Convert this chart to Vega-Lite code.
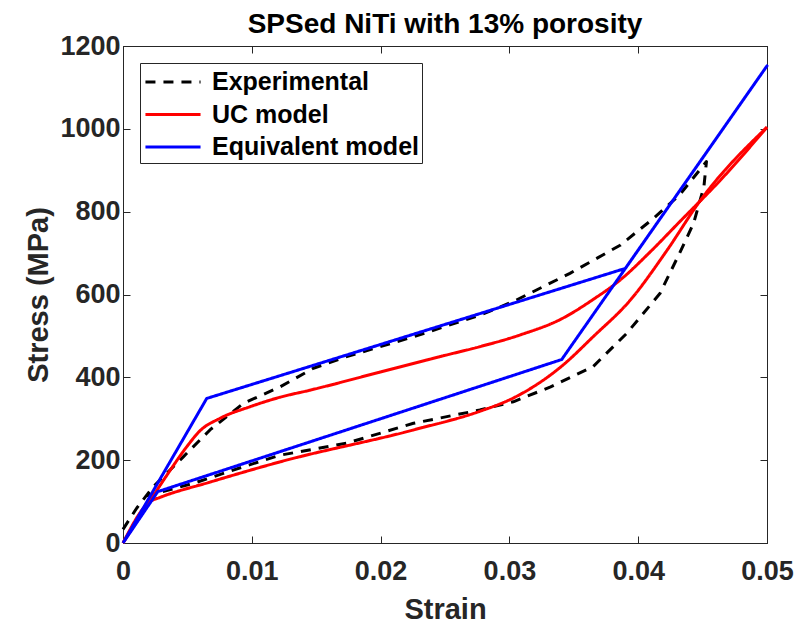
{
  "$schema": "https://vega.github.io/schema/vega-lite/v6.json",
  "width": 644,
  "height": 497,
  "autosize": {"type": "none"},
  "padding": {"left": 123, "top": 46, "right": 28, "bottom": 81},
  "background": "white",
  "title": {"text": "SPSed NiTi with 13% porosity", "font": "Liberation Sans", "fontSize": 28, "fontWeight": "bold", "color": "#000000", "offset": -7, "anchor": "middle"},
  "config": {
    "view": {"stroke": "#262626", "strokeWidth": 1},
    "axis": {"grid": false, "domainColor": "#262626", "tickColor": "#262626", "labelColor": "#262626", "titleColor": "#262626", "labelFont": "Liberation Sans", "titleFont": "Liberation Sans", "labelFontWeight": "bold", "titleFontWeight": "bold", "labelFontSize": 27, "titleFontSize": 29, "tickSize": -7, "labelFlush": false},
    "legend": {"strokeColor": "#262626", "fillColor": "white", "padding": 3, "rowPadding": 3.5, "labelFont": "Liberation Sans", "labelFontWeight": "bold", "labelFontSize": 25, "labelColor": "#000000", "labelLimit": 400}
  },
  "data": {"values": [
    {"series": "Experimental", "branch": "a", "i": 1, "strain": 0, "stress": 33},
    {"series": "Experimental", "branch": "a", "i": 2, "strain": 0.00106, "stress": 84},
    {"series": "Experimental", "branch": "a", "i": 3, "strain": 0.00235, "stress": 136},
    {"series": "Experimental", "branch": "a", "i": 4, "strain": 0.00468, "stress": 208},
    {"series": "Experimental", "branch": "a", "i": 5, "strain": 0.00675, "stress": 273},
    {"series": "Experimental", "branch": "a", "i": 6, "strain": 0.00934, "stress": 337},
    {"series": "Experimental", "branch": "a", "i": 7, "strain": 0.0122, "stress": 377},
    {"series": "Experimental", "branch": "a", "i": 8, "strain": 0.01478, "stress": 422},
    {"series": "Experimental", "branch": "a", "i": 9, "strain": 0.01737, "stress": 450},
    {"series": "Experimental", "branch": "a", "i": 10, "strain": 0.02255, "stress": 498},
    {"series": "Experimental", "branch": "a", "i": 11, "strain": 0.0277, "stress": 550},
    {"series": "Experimental", "branch": "a", "i": 12, "strain": 0.0303, "stress": 583},
    {"series": "Experimental", "branch": "a", "i": 13, "strain": 0.0347, "stress": 651},
    {"series": "Experimental", "branch": "a", "i": 14, "strain": 0.0386, "stress": 719},
    {"series": "Experimental", "branch": "a", "i": 15, "strain": 0.0412, "stress": 784},
    {"series": "Experimental", "branch": "a", "i": 16, "strain": 0.0432, "stress": 840},
    {"series": "Experimental", "branch": "a", "i": 17, "strain": 0.0453, "stress": 921},
    {"series": "Experimental", "branch": "a", "i": 18, "strain": 0.0451, "stress": 860},
    {"series": "Experimental", "branch": "a", "i": 19, "strain": 0.0443, "stress": 772},
    {"series": "Experimental", "branch": "a", "i": 20, "strain": 0.0432, "stress": 699},
    {"series": "Experimental", "branch": "a", "i": 21, "strain": 0.0417, "stress": 603},
    {"series": "Experimental", "branch": "a", "i": 22, "strain": 0.0391, "stress": 506},
    {"series": "Experimental", "branch": "a", "i": 23, "strain": 0.0365, "stress": 426},
    {"series": "Experimental", "branch": "a", "i": 24, "strain": 0.0332, "stress": 377},
    {"series": "Experimental", "branch": "a", "i": 25, "strain": 0.0303, "stress": 341},
    {"series": "Experimental", "branch": "a", "i": 26, "strain": 0.0277, "stress": 321},
    {"series": "Experimental", "branch": "a", "i": 27, "strain": 0.02255, "stress": 289},
    {"series": "Experimental", "branch": "a", "i": 28, "strain": 0.01737, "stress": 241},
    {"series": "Experimental", "branch": "a", "i": 29, "strain": 0.0122, "stress": 212},
    {"series": "Experimental", "branch": "a", "i": 30, "strain": 0.00934, "stress": 184},
    {"series": "Experimental", "branch": "a", "i": 31, "strain": 0.00546, "stress": 144},
    {"series": "Experimental", "branch": "a", "i": 32, "strain": 0.00261, "stress": 120},
    {"series": "Experimental", "branch": "a", "i": 33, "strain": 0.0016, "stress": 112},
    {"series": "UC model", "branch": "load", "i": 1, "strain": 0, "stress": 0},
    {"series": "UC model", "branch": "load", "i": 2, "strain": 0.0021, "stress": 102},
    {"series": "UC model", "branch": "load", "i": 3, "strain": 0.0035, "stress": 168},
    {"series": "UC model", "branch": "load", "i": 4, "strain": 0.00494, "stress": 232},
    {"series": "UC model", "branch": "load", "i": 5, "strain": 0.00598, "stress": 271},
    {"series": "UC model", "branch": "load", "i": 6, "strain": 0.00753, "stress": 301},
    {"series": "UC model", "branch": "load", "i": 7, "strain": 0.00986, "stress": 329},
    {"series": "UC model", "branch": "load", "i": 8, "strain": 0.0122, "stress": 352},
    {"series": "UC model", "branch": "load", "i": 9, "strain": 0.01452, "stress": 369},
    {"series": "UC model", "branch": "load", "i": 10, "strain": 0.02, "stress": 413},
    {"series": "UC model", "branch": "load", "i": 11, "strain": 0.025, "stress": 453},
    {"series": "UC model", "branch": "load", "i": 12, "strain": 0.0277, "stress": 474},
    {"series": "UC model", "branch": "load", "i": 13, "strain": 0.0308, "stress": 502},
    {"series": "UC model", "branch": "load", "i": 14, "strain": 0.0341, "stress": 542},
    {"series": "UC model", "branch": "load", "i": 15, "strain": 0.0365, "stress": 588},
    {"series": "UC model", "branch": "load", "i": 16, "strain": 0.0386, "stress": 635},
    {"series": "UC model", "branch": "load", "i": 17, "strain": 0.041, "stress": 705},
    {"series": "UC model", "branch": "load", "i": 18, "strain": 0.0432, "stress": 775},
    {"series": "UC model", "branch": "load", "i": 19, "strain": 0.0465, "stress": 880},
    {"series": "UC model", "branch": "load", "i": 20, "strain": 0.05, "stress": 1004},
    {"series": "UC model", "branch": "unload", "i": 21, "strain": 0.05, "stress": 1004},
    {"series": "UC model", "branch": "unload", "i": 22, "strain": 0.0448, "stress": 826},
    {"series": "UC model", "branch": "unload", "i": 23, "strain": 0.0422, "stress": 705},
    {"series": "UC model", "branch": "unload", "i": 24, "strain": 0.0394, "stress": 587},
    {"series": "UC model", "branch": "unload", "i": 25, "strain": 0.0365, "stress": 498},
    {"series": "UC model", "branch": "unload", "i": 26, "strain": 0.0341, "stress": 428},
    {"series": "UC model", "branch": "unload", "i": 27, "strain": 0.0303, "stress": 350},
    {"series": "UC model", "branch": "unload", "i": 28, "strain": 0.0277, "stress": 318},
    {"series": "UC model", "branch": "unload", "i": 29, "strain": 0.02255, "stress": 273},
    {"series": "UC model", "branch": "unload", "i": 30, "strain": 0.0122, "stress": 196},
    {"series": "UC model", "branch": "unload", "i": 31, "strain": 0.00675, "stress": 147},
    {"series": "UC model", "branch": "unload", "i": 32, "strain": 0.00287, "stress": 110},
    {"series": "UC model", "branch": "unload", "i": 33, "strain": 0.0021, "stress": 100},
    {"series": "UC model", "branch": "unload", "i": 34, "strain": 0, "stress": 0},
    {"series": "Equivalent model", "branch": "a", "i": 1, "strain": 0, "stress": 0},
    {"series": "Equivalent model", "branch": "a", "i": 2, "strain": 0.0065, "stress": 349},
    {"series": "Equivalent model", "branch": "a", "i": 3, "strain": 0.039, "stress": 663},
    {"series": "Equivalent model", "branch": "a", "i": 4, "strain": 0.05, "stress": 1152},
    {"series": "Equivalent model", "branch": "a", "i": 5, "strain": 0.03406, "stress": 443},
    {"series": "Equivalent model", "branch": "a", "i": 6, "strain": 0.0027, "stress": 124},
    {"series": "Equivalent model", "branch": "a", "i": 7, "strain": 0, "stress": 0}
  ]},
  "layer": [
    {
      "transform": [{"filter": "datum.series === 'Experimental'"}],
      "mark": {"type": "line", "strokeWidth": 3, "strokeCap": "butt", "strokeJoin": "round"},
      "encoding": {
        "x": {"field": "strain", "type": "quantitative", "scale": {"domain": [0, 0.05], "nice": false, "zero": false},
              "axis": {"title": "Strain", "values": [0, 0.01, 0.02, 0.03, 0.04, 0.05], "format": "~g", "labelPadding": 22, "titlePadding": 11}},
        "y": {"field": "stress", "type": "quantitative", "scale": {"domain": [0, 1200], "nice": false},
              "axis": {"title": "Stress (MPa)", "values": [0, 200, 400, 600, 800, 1000, 1200], "format": "d", "labelPadding": 10, "titlePadding": 6}},
        "color": {"field": "series", "type": "nominal",
                  "scale": {"domain": ["Experimental", "UC model", "Equivalent model"], "range": ["#000000", "#ff0000", "#0000ff"]},
                  "legend": {"title": null, "orient": "top-left", "offset": 17, "symbolType": "M-1.9,0H1.9", "symbolSize": 841, "symbolStrokeWidth": 3, "symbolOffset": 14, "labelOffset": 23}},
        "strokeDash": {"field": "series", "type": "nominal",
                  "scale": {"domain": ["Experimental", "UC model", "Equivalent model"], "range": [[10, 8], [1, 0], [1, 0]]},
                  "legend": {"title": null, "orient": "top-left", "offset": 17, "symbolType": "M-1.9,0H1.9", "symbolSize": 841, "symbolStrokeWidth": 3, "symbolOffset": 14, "labelOffset": 23}},
        "order": {"field": "i", "type": "quantitative"}
      }
    },
    {
      "transform": [{"filter": "datum.series === 'UC model'"}],
      "mark": {"type": "line", "strokeWidth": 3, "strokeCap": "butt", "strokeJoin": "round", "interpolate": "monotone"},
      "encoding": {
        "x": {"field": "strain", "type": "quantitative", "axis": null},
        "y": {"field": "stress", "type": "quantitative", "axis": null},
        "color": {"field": "series", "type": "nominal"},
        "strokeDash": {"field": "series", "type": "nominal"},
        "detail": {"field": "branch", "type": "nominal"},
        "order": {"field": "i", "type": "quantitative"}
      }
    },
    {
      "transform": [{"filter": "datum.series === 'Equivalent model'"}],
      "mark": {"type": "line", "strokeWidth": 3, "strokeCap": "butt", "strokeJoin": "round"},
      "encoding": {
        "x": {"field": "strain", "type": "quantitative", "axis": null},
        "y": {"field": "stress", "type": "quantitative", "axis": null},
        "color": {"field": "series", "type": "nominal"},
        "strokeDash": {"field": "series", "type": "nominal"},
        "order": {"field": "i", "type": "quantitative"}
      }
    },
    {
      "mark": {"type": "line", "opacity": 0},
      "encoding": {
        "x": {"field": "strain", "type": "quantitative", "axis": {"orient": "top", "title": null, "labels": false, "values": [0, 0.01, 0.02, 0.03, 0.04, 0.05]}},
        "y": {"field": "stress", "type": "quantitative", "axis": {"orient": "right", "title": null, "labels": false, "values": [0, 200, 400, 600, 800, 1000, 1200]}},
        "detail": {"field": "series", "type": "nominal"},
        "order": {"field": "i", "type": "quantitative"}
      }
    }
  ],
  "resolve": {"axis": {"x": "independent", "y": "independent"}}
}
